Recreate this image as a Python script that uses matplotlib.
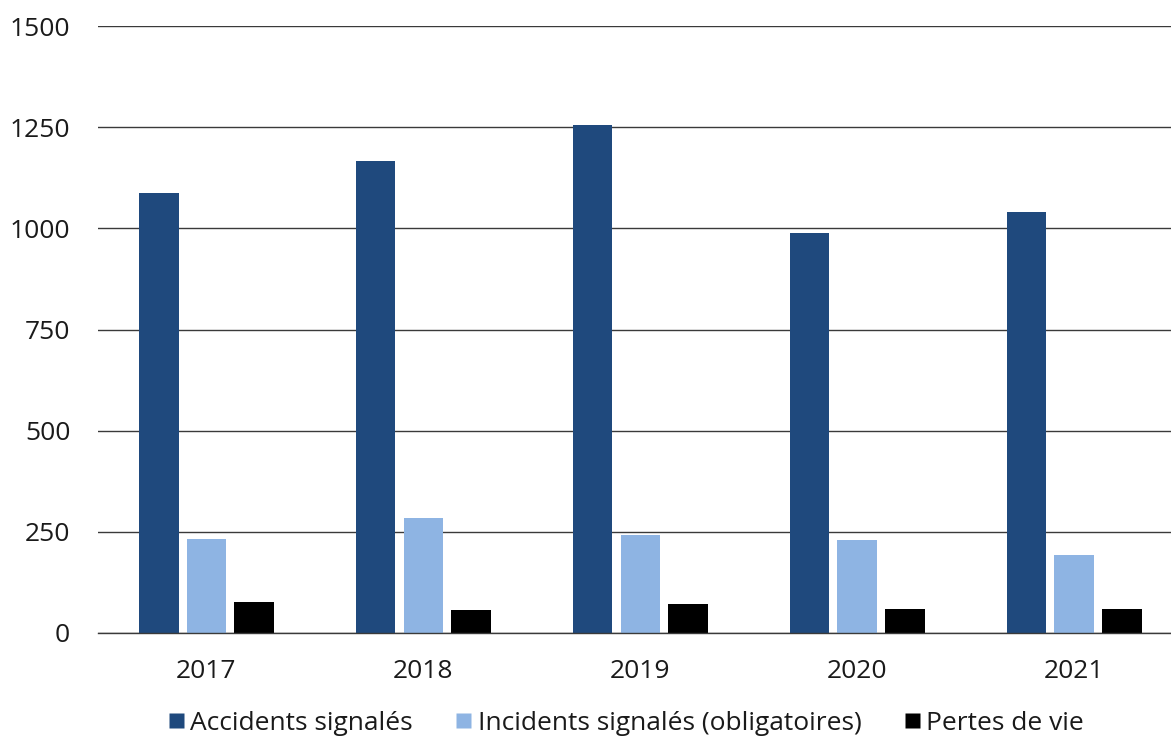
import matplotlib
matplotlib.use("Agg")
import matplotlib.pyplot as plt
from matplotlib.lines import Line2D
import numpy as np

# Data
years = ["2017", "2018", "2019", "2020", "2021"]
accidents = [1088, 1166, 1256, 988, 1040]
incidents = [233, 284, 242, 229, 193]
deaths = [77, 56, 72, 59, 59]
series_labels = ["Accidents signalés", "Incidents signalés (obligatoires)", "Pertes de vie"]
colors = ["#1F497D", "#8EB4E3", "#000000"]

plt.rcParams["font.family"] = ["Open Sans", "DejaVu Sans"]
FS = 19

W, H = 1171, 737
fig = plt.figure(figsize=(W / 100, H / 100), dpi=100)
ax = fig.add_axes([98 / W, (H - 633) / H, (W - 98) / W, (633 - 26) / H])

x = np.arange(len(years))
bw = 0.184
off = 0.221
for i, (vals, c) in enumerate(zip([accidents, incidents, deaths], colors)):
    ax.bar(x + (i - 1) * off, vals, width=bw, color=c, edgecolor="none", zorder=3)

ax.set_ylim(0, 1500)
ax.set_yticks(np.arange(0, 1501, 250))
ax.set_xlim(-0.5, 4.445)
ax.set_xticks(x)
ax.set_xticklabels(years)
ax.grid(axis="y", color="#3a3a3a", linewidth=1.0, zorder=0)
ax.grid(axis="x", visible=False)
# baseline drawn on top so it is not clipped at the axes edge
ax.axhline(0, color="#3a3a3a", linewidth=1.0, zorder=4, clip_on=False)
for s in ax.spines.values():
    s.set_visible(False)
ax.tick_params(axis="both", length=0, labelsize=FS, colors="#1a1a1a")
ax.tick_params(axis="y", pad=20)
ax.tick_params(axis="x", pad=19)

handles = [Line2D([], [], marker="s", linestyle="none", markersize=10.8,
                  markerfacecolor=c, markeredgecolor="none") for c in colors]
fig.legend(handles, series_labels, loc="center", bbox_to_anchor=(626 / W, 1 - 723 / H),
           ncol=3, frameon=False, fontsize=FS, handletextpad=0.25,
           columnspacing=1.6, handlelength=0.6, borderaxespad=0, borderpad=0,
           labelcolor="#1a1a1a")

fig.savefig("out.png", dpi=100)
